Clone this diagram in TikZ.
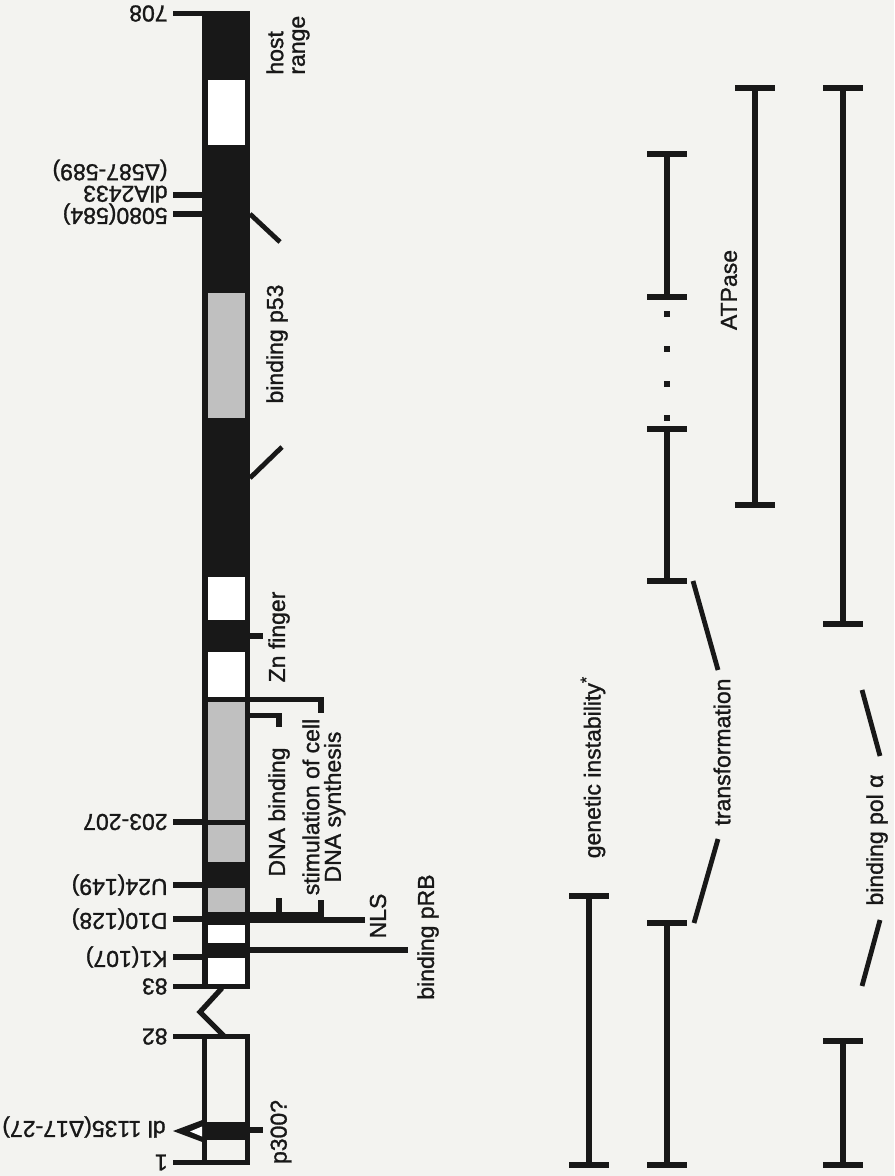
\documentclass[tikz,border=0pt]{standalone}
\usepackage{fontspec}
\setmainfont{Liberation Sans}[FakeBold=1.2]
\usetikzlibrary{positioning}
\definecolor{paper}{RGB}{243,243,240}
\definecolor{ink}{RGB}{24,24,24}
\definecolor{screen}{RGB}{192,192,192}

\begin{document}
\begin{tikzpicture}[x=0.5pt, y=-0.5pt,
	every node/.style={font=\fontsize{11.5}{10.8}\selectfont, inner sep=0pt, text=ink},
	upside/.style={rotate=180, anchor=west},
	side/.style={rotate=90},
	tick/.style={draw=ink, line width=2.6pt},
	slant/.style={draw=ink, line width=2.4pt},
	ibeam/.style={draw=ink, line width=2.9pt}]
	\fill[paper] (0,0) rectangle (894,1176);
	\useasboundingbox (0,0) rectangle (894,1176);

	% protein bar, residues 83-708
	\fill[ink] (202,11) rectangle (250,989);
	\foreach \a/\b in {80/145, 577/620, 652/697, 925/943, 958/984}
		\fill[white] (207.5,\a) rectangle (245,\b);
	\foreach \a/\b in {293/418, 702/820, 825/862, 888/912}
		\fill[screen] (207.5,\a) rectangle (245,\b);
	% residues 1-82
	\draw[tick] (204.5,1036.5) rectangle (247.5,1162.5);
	\fill[ink] (207,1122) rectangle (245,1140);
	\draw[tick, line join=miter] (222,988) -- (200,1012) -- (224,1036);
	\fill[ink] (173,1131) -- (205,1119) -- (205,1143) -- cycle;
	\fill[white] (190,1131.5) -- (202,1126.5) -- (202,1136.5) -- cycle;

	% positions along the sequence
	\node[upside] (p708) at (168,13.5) {708};
	\node[upside, anchor=north west, align=left] (pA2433) at (168,203) {dlA2433\\(Δ587-589)};
	\node[upside] (p5080) at (168,214) {5080(584)};
	\node[upside] (p203) at (168,822) {203-207};
	\node[upside] (pU24) at (168,885) {U24(149)};
	\node[upside] (pD10) at (168,919) {D10(128)};
	\node[upside] (pK1) at (168,957) {K1(107)};
	\node[upside] (p83) at (168,986.5) {83};
	\node[upside] (p82) at (168,1036.5) {82};
	\node[upside] (p1135) at (166,1127) {dl 1135(Δ17-27)};
	\node[upside] (p1) at (168,1162.5) {1};
	\foreach \y in {13.5, 195, 214, 822, 885, 919, 957, 986.5, 1036.5, 1162.5}
		\draw[tick] (173,\y) -- (202,\y);

	% features
	\node[side, anchor=west, align=left] (host) at (288,75) {host\\range};
	\node[side] (p53) at (277,344) {binding p53};
	\draw[slant] (250,214) -- (280,242);
	\draw[slant] (250,478) -- (282,447);
	\node[side] (zn) at (279,637) {Zn finger};
	\draw[tick] (250,636) -- (263,636);
	\draw[tick] (248,699.5) -| (321,713);
	\draw[tick] (250,715.5) -| (279,727);
	\node[side] (dna) at (279,812) {DNA binding};
	\node[side, align=center] (stim) at (324,807) {stimulation of cell\\DNA synthesis};
	\draw[tick] (250,914.5) -- (321,914.5) -- (321,900);
	\draw[tick] (279,914.5) -- (279,898);
	\draw[tick] (250,920) -- (365,920);
	\node[side] (nls) at (378,916) {NLS};
	\draw[tick] (250,950) -- (408,950);
	\node[side] (prb) at (428,937) {binding pRB};
	\draw[tick] (250,1130) -- (263,1130);
	\node[side] (p300) at (281,1132) {p300?};

	% activities
	\foreach \x/\a/\b in {589/896/1165, 667/154/297, 667/429/581, 667/923/1165, 755/88/505, 843/88/624, 843/1041/1165}
		\draw[ibeam] (\x-20,\a) -- (\x+20,\a) (\x,\a) -- (\x,\b) (\x-20,\b) -- (\x+20,\b);
	\foreach \y in {314,349,384,418}
		\fill[ink] (664,\y-3) rectangle (670,\y+3);
	\node[side] (genins) at (593,767) {genetic instability\textsuperscript{*}};
	\node[side] (trans) at (722,752) {transformation};
	\node[side] (atp) at (729,290) {ATPase};
	\node[side] (pol) at (877,840) {binding pol α};
	\draw[slant] (693,581) -- (718,670);
	\draw[slant] (718,839) -- (694,923);
	\draw[slant] (862,690) -- (880,756);
	\draw[slant] (880,920) -- (862,986);
\end{tikzpicture}
\end{document}
